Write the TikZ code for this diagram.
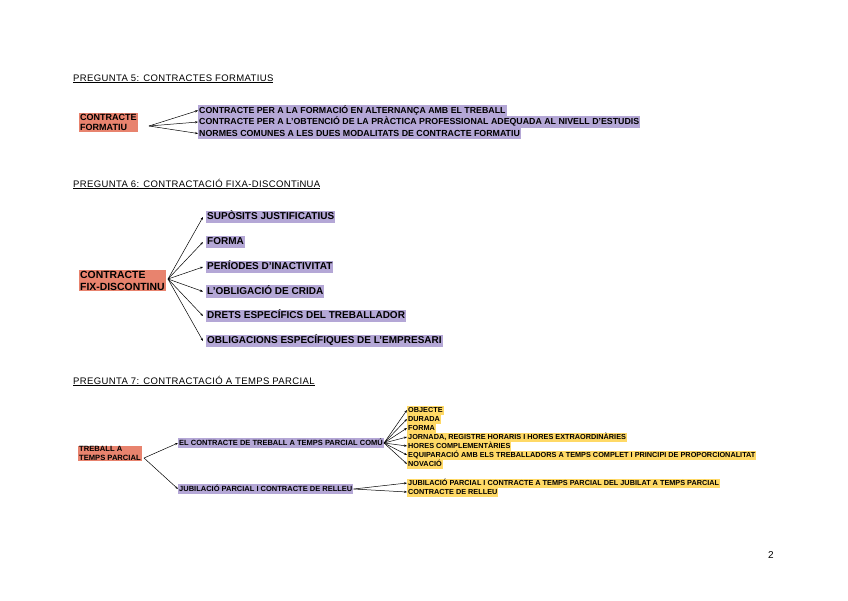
\documentclass[tikz,border=0pt]{standalone}
\usepackage{fontspec}
\setmainfont{Liberation Sans}
\usetikzlibrary{arrows.meta}
\definecolor{orangec}{HTML}{E8836E}
\definecolor{purplec}{HTML}{B4A7D6}
\definecolor{yellowc}{HTML}{FFD966}
\tikzset{
  ttl/.style={anchor=base west, inner sep=0pt, font=\fontsize{9.5}{11}\selectfont\addfontfeature{LetterSpace=4}},
  orng/.style={fill=orangec, align=left, inner xsep=1pt, inner ysep=1pt},
  pa/.style={fill=purplec, anchor=west, inner xsep=1pt, inner ysep=0.75pt, text height=7.5pt, text depth=2.4pt, font=\bfseries\fontsize{8.8}{10}\selectfont},
  pb/.style={fill=purplec, anchor=west, inner xsep=1pt, inner ysep=1pt, text height=8pt, text depth=2.5pt, font=\bfseries\fontsize{10}{12}\selectfont},
  pc/.style={fill=purplec, anchor=west, inner xsep=1pt, inner ysep=1pt, text height=6pt, text depth=1.8pt, font=\bfseries\fontsize{7.5}{9}\selectfont},
  yl/.style={fill=yellowc, anchor=west, inner xsep=1pt, inner ysep=0.6pt, text height=6pt, text depth=1.8pt, font=\bfseries\fontsize{7.3}{9}\selectfont},
  arr/.style={draw=black, line width=0.5pt, -{Stealth[length=3pt,width=2.2pt]}},
}
\begin{document}
\begin{tikzpicture}[x=1pt,y=-1pt]
\useasboundingbox[fill=white] (0,0) rectangle (848,600);

% ---------- Pregunta 5
\node[ttl] (t5) at (73,81) {\underline{PREGUNTA 5: CONTRACTES FORMATIUS}};
\node[orng, anchor=west, font=\bfseries\fontsize{9}{10.5}\selectfont] (cf) at (79,122.5) {CONTRACTE\\FORMATIU};
\coordinate (v5) at (149,126);
\node[pa] (f1) at (198,110.5) {CONTRACTE PER A LA FORMACIÓ EN ALTERNANÇA AMB EL TREBALL};
\node[pa] (f2) at (198,122) {CONTRACTE PER A L'OBTENCIÓ DE LA PRÀCTICA PROFESSIONAL ADEQUADA AL NIVELL D'ESTUDIS};
\node[pa] (f3) at (198,133.5) {NORMES COMUNES A LES DUES MODALITATS DE CONTRACTE FORMATIU};
\foreach \n in {f1,f2,f3} \draw[arr] (v5) -- (\n.west);

% ---------- Pregunta 6
\node[ttl] (t6) at (73,187) {\underline{PREGUNTA 6: CONTRACTACIÓ FIXA-DISCONTiNUA}};
\node[orng, anchor=west, font=\bfseries\fontsize{10.4}{12}\selectfont] (cd) at (79,280.5) {CONTRACTE\\FIX-DISCONTINU};
\coordinate (v6) at (168,279);
\node[pb] (d1) at (206,217) {SUPÒSITS JUSTIFICATIUS};
\node[pb] (d2) at (206,242) {FORMA};
\node[pb] (d3) at (206,267) {PERÍODES D'INACTIVITAT};
\node[pb] (d4) at (206,291.5) {L'OBLIGACIÓ DE CRIDA};
\node[pb] (d5) at (206,316) {DRETS ESPECÍFICS DEL TREBALLADOR};
\node[pb] (d6) at (206,341) {OBLIGACIONS ESPECÍFIQUES DE L'EMPRESARI};
\foreach \n in {d1,d2,d3,d4,d5,d6} \draw[arr] (v6) -- ([xshift=-3pt]\n.west);

% ---------- Pregunta 7
\node[ttl] (t7) at (73,384) {\underline{PREGUNTA 7: CONTRACTACIÓ A TEMPS PARCIAL}};
\node[orng, anchor=west, inner ysep=0.5pt, font=\bfseries\fontsize{7.6}{9.5}\selectfont] (tp) at (78,453.5) {TREBALL A\\TEMPS PARCIAL};
\coordinate (v7) at (144,458);
\node[pc] (p1) at (178,443) {EL CONTRACTE DE TREBALL A TEMPS PARCIAL COMÚ};
\node[pc] (p2) at (178,489) {JUBILACIÓ PARCIAL I CONTRACTE DE RELLEU};
\draw[arr] (v7) -- (p1.west);
\draw[arr] (v7) -- (p2.west);

\node[yl] (y1) at (407,410) {OBJECTE};
\node[yl] (y2) at (407,419) {DURADA};
\node[yl] (y3) at (407,428) {FORMA};
\node[yl] (y4) at (407,437) {JORNADA, REGISTRE HORARIS I HORES EXTRAORDINÀRIES};
\node[yl] (y5) at (407,446) {HORES COMPLEMENTÀRIES};
\node[yl] (y6) at (407,455) {EQUIPARACIÓ AMB ELS TREBALLADORS A TEMPS COMPLET I PRINCIPI DE PROPORCIONALITAT};
\node[yl] (y7) at (407,464) {NOVACIÓ};
\foreach \n in {y1,y2,y3,y4,y5,y6,y7} \draw[arr] (p1.east) -- (\n.west);

\node[yl] (j1) at (407,483) {JUBILACIÓ PARCIAL I CONTRACTE A TEMPS PARCIAL DEL JUBILAT A TEMPS PARCIAL};
\node[yl] (j2) at (407,492) {CONTRACTE DE RELLEU};
\draw[arr] (p2.east) -- (j1.west);
\draw[arr] (p2.east) -- (j2.west);

% page number
\node[anchor=base, inner sep=0pt, font=\fontsize{10}{12}\selectfont] (pg) at (771,558) {2};
\end{tikzpicture}
\end{document}
